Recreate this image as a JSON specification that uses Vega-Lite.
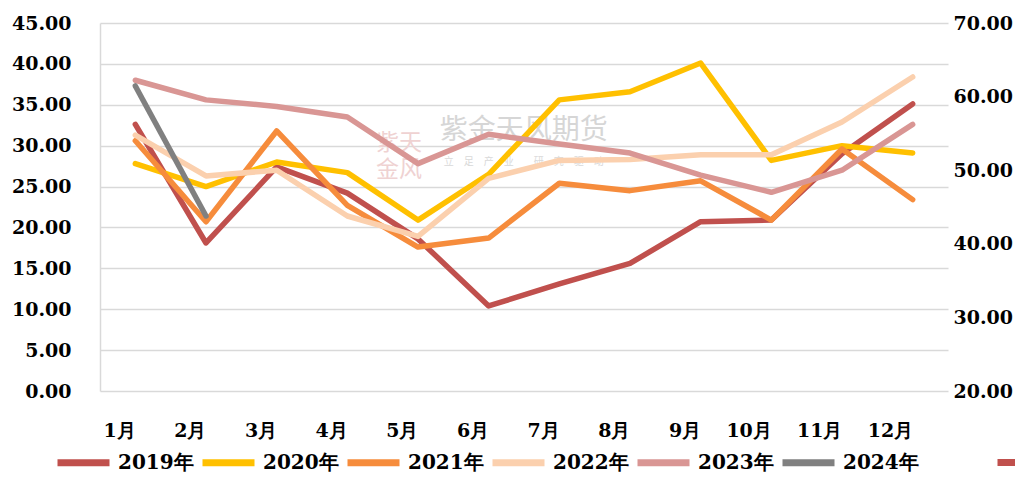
{
  "$schema": "https://vega.github.io/schema/vega-lite/v6.json",
  "width": 848,
  "height": 368,
  "autosize": {"type": "none"},
  "padding": {"left": 100, "top": 23, "right": 67, "bottom": 105},
  "background": "white",
  "config": {"view": {"stroke": null}, "font": "DejaVu Serif"},
  "data": {"values": [
    {"month": "1月", "year": "2019年", "value": 32.6},
    {"month": "2月", "year": "2019年", "value": 18.1},
    {"month": "3月", "year": "2019年", "value": 27.4},
    {"month": "4月", "year": "2019年", "value": 24.2},
    {"month": "5月", "year": "2019年", "value": 18.6},
    {"month": "6月", "year": "2019年", "value": 10.4},
    {"month": "7月", "year": "2019年", "value": 13.1},
    {"month": "8月", "year": "2019年", "value": 15.6},
    {"month": "9月", "year": "2019年", "value": 20.7},
    {"month": "10月", "year": "2019年", "value": 20.9},
    {"month": "11月", "year": "2019年", "value": 29.0},
    {"month": "12月", "year": "2019年", "value": 35.1},
    {"month": "1月", "year": "2020年", "value": 27.8},
    {"month": "2月", "year": "2020年", "value": 25.0},
    {"month": "3月", "year": "2020年", "value": 28.0},
    {"month": "4月", "year": "2020年", "value": 26.7},
    {"month": "5月", "year": "2020年", "value": 20.9},
    {"month": "6月", "year": "2020年", "value": 26.5},
    {"month": "7月", "year": "2020年", "value": 35.6},
    {"month": "8月", "year": "2020年", "value": 36.6},
    {"month": "9月", "year": "2020年", "value": 40.1},
    {"month": "10月", "year": "2020年", "value": 28.2},
    {"month": "11月", "year": "2020年", "value": 30.0},
    {"month": "12月", "year": "2020年", "value": 29.1},
    {"month": "1月", "year": "2021年", "value": 30.6},
    {"month": "2月", "year": "2021年", "value": 20.7},
    {"month": "3月", "year": "2021年", "value": 31.8},
    {"month": "4月", "year": "2021年", "value": 22.7},
    {"month": "5月", "year": "2021年", "value": 17.6},
    {"month": "6月", "year": "2021年", "value": 18.7},
    {"month": "7月", "year": "2021年", "value": 25.4},
    {"month": "8月", "year": "2021年", "value": 24.5},
    {"month": "9月", "year": "2021年", "value": 25.7},
    {"month": "10月", "year": "2021年", "value": 20.9},
    {"month": "11月", "year": "2021年", "value": 29.6},
    {"month": "12月", "year": "2021年", "value": 23.4},
    {"month": "1月", "year": "2022年", "value": 31.3},
    {"month": "2月", "year": "2022年", "value": 26.3},
    {"month": "3月", "year": "2022年", "value": 27.0},
    {"month": "4月", "year": "2022年", "value": 21.4},
    {"month": "5月", "year": "2022年", "value": 18.9},
    {"month": "6月", "year": "2022年", "value": 26.0},
    {"month": "7月", "year": "2022年", "value": 28.2},
    {"month": "8月", "year": "2022年", "value": 28.3},
    {"month": "9月", "year": "2022年", "value": 28.9},
    {"month": "10月", "year": "2022年", "value": 28.9},
    {"month": "11月", "year": "2022年", "value": 32.9},
    {"month": "12月", "year": "2022年", "value": 38.4},
    {"month": "1月", "year": "2023年", "value": 38.0},
    {"month": "2月", "year": "2023年", "value": 35.6},
    {"month": "3月", "year": "2023年", "value": 34.8},
    {"month": "4月", "year": "2023年", "value": 33.5},
    {"month": "5月", "year": "2023年", "value": 27.8},
    {"month": "6月", "year": "2023年", "value": 31.4},
    {"month": "7月", "year": "2023年", "value": 30.2},
    {"month": "8月", "year": "2023年", "value": 29.1},
    {"month": "9月", "year": "2023年", "value": 26.4},
    {"month": "10月", "year": "2023年", "value": 24.3},
    {"month": "11月", "year": "2023年", "value": 27.0},
    {"month": "12月", "year": "2023年", "value": 32.6},
    {"month": "1月", "year": "2024年", "value": 37.3},
    {"month": "2月", "year": "2024年", "value": 21.4}
  ]},
  "layer": [
    {
      "layer": [
        {
          "data": {"values": [{"text": ["紫天", "金风"]}]},
          "mark": {"type": "text", "font": "Noto Sans CJK SC", "fontSize": 23, "lineHeight": 27, "color": "#efd2d2", "align": "center", "baseline": "middle", "dx": -19},
          "encoding": {
            "x": {"datum": "5月", "type": "ordinal"},
            "y": {"datum": 30.3, "type": "quantitative"},
            "text": {"field": "text"}
          }
        },
        {
          "data": {"values": [{"text": "紫金天风期货"}]},
          "mark": {"type": "text", "font": "Noto Sans CJK SC", "fontSize": 28, "color": "#d6d6d6", "align": "center", "baseline": "middle", "dx": 35},
          "encoding": {
            "x": {"datum": "6月", "type": "ordinal"},
            "y": {"datum": 31.8, "type": "quantitative"},
            "text": {"field": "text"}
          }
        },
        {
          "data": {"values": [{"text": "立　足　产　业　　研　究　驱　动"}]},
          "mark": {"type": "text", "font": "Noto Sans CJK SC", "fontSize": 10, "color": "#d9d9d9", "align": "center", "baseline": "middle", "dx": 35},
          "encoding": {
            "x": {"datum": "6月", "type": "ordinal"},
            "y": {"datum": 28.0, "type": "quantitative"},
            "text": {"field": "text"}
          }
        },
        {
          "mark": {"type": "line", "strokeWidth": 5.5, "strokeJoin": "round", "strokeCap": "round"},
          "encoding": {
            "x": {
              "field": "month", "type": "ordinal",
              "sort": ["1月", "2月", "3月", "4月", "5月", "6月", "7月", "8月", "9月", "10月", "11月", "12月"],
              "scale": {"type": "point", "padding": 0.5},
              "axis": {"title": null, "labelAngle": 0, "ticks": false, "domain": false, "grid": false, "labelPadding": 39, "labelFont": "DejaVu Serif", "labelFontWeight": "bold", "labelFontSize": 19, "labelColor": "#000000"}
            },
            "y": {
              "field": "value", "type": "quantitative",
              "scale": {"domain": [0, 45], "nice": false, "zero": true},
              "axis": {"title": null, "values": [0, 5, 10, 15, 20, 25, 30, 35, 40, 45], "format": ".2f", "ticks": false, "domain": true, "domainColor": "#D9D9D9", "domainWidth": 1.5, "grid": true, "gridColor": "#D9D9D9", "gridWidth": 1.5, "labelPadding": 29, "labelFont": "DejaVu Serif", "labelFontWeight": "bold", "labelFontSize": 19, "labelColor": "#000000"}
            },
            "color": {
              "field": "year", "type": "nominal",
              "scale": {"domain": ["2019年", "2020年", "2021年", "2022年", "2023年", "2024年"], "range": ["#C0504D", "#FFC000", "#F68C3C", "#FBD0AE", "#D99694", "#808080"]},
              "legend": {"title": null, "orient": "none", "legendX": -46, "legendY": 410, "direction": "horizontal", "columns": 6, "symbolType": "stroke", "symbolSize": 2704, "symbolStrokeWidth": 7, "labelOffset": 5, "columnPadding": -6, "padding": 0, "labelFont": "DejaVu Serif", "labelFontWeight": "bold", "labelFontSize": 20, "labelColor": "#000000", "labelLimit": 200}
            }
          }
        }
      ]
    },
    {
      "transform": [{"filter": "false"}],
      "mark": {"type": "line", "strokeWidth": 5.5},
      "encoding": {
        "x": {"field": "month", "type": "ordinal", "sort": ["1月", "2月", "3月", "4月", "5月", "6月", "7月", "8月", "9月", "10月", "11月", "12月"]},
        "y": {
          "field": "value", "type": "quantitative",
          "scale": {"domain": [20, 70], "nice": false, "zero": false},
          "axis": {"orient": "right", "title": null, "values": [20, 30, 40, 50, 60, 70], "format": ".2f", "ticks": false, "domain": false, "grid": false, "labelPadding": 5, "labelFont": "DejaVu Serif", "labelFontWeight": "bold", "labelFontSize": 19, "labelColor": "#000000"}
        },
        "color": {
          "field": "year", "type": "nominal",
          "scale": {"domain": ["2025年"], "range": ["#C0504D"]},
          "legend": {"title": null, "orient": "none", "legendX": 894, "legendY": 410, "direction": "horizontal", "symbolType": "stroke", "symbolSize": 2704, "symbolStrokeWidth": 7, "labelOffset": 5, "padding": 0, "labelFont": "DejaVu Serif", "labelFontWeight": "bold", "labelFontSize": 20, "labelColor": "#000000"}
        }
      }
    }
  ],
  "resolve": {"scale": {"y": "independent", "color": "independent"}}
}
